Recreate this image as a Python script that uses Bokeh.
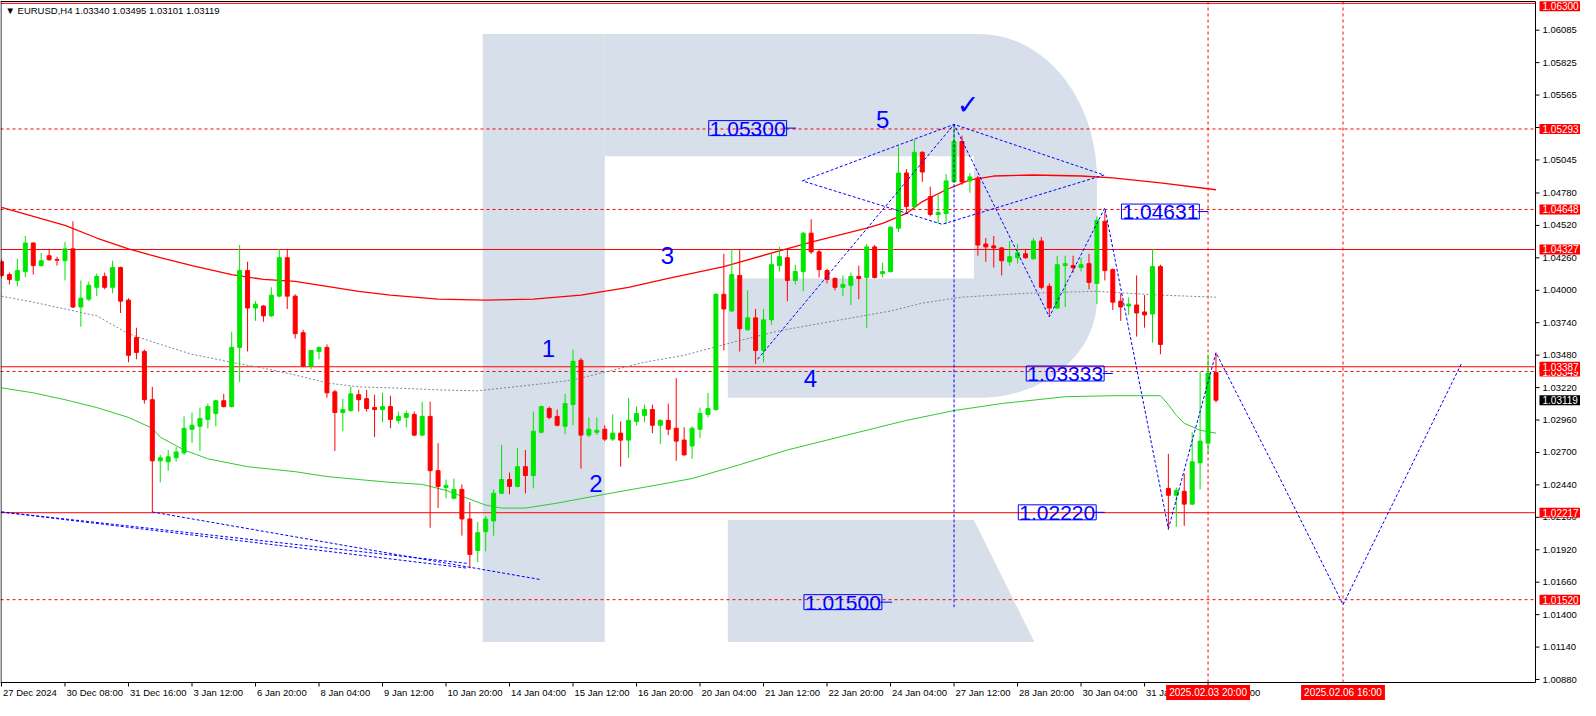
import numpy as np
from bokeh.plotting import figure
from bokeh.models import Range1d, Label, ColumnDataSource
from bokeh.embed import file_html
from bokeh.resources import INLINE
from bokeh.core.properties import value

# ---------------- data (EURUSD, H4) ----------------
open_ = [1.04229,1.04126,1.04079,1.04150,1.04379,1.04198,1.04277,1.04247,1.04237,1.04332,
         1.03866,1.03929,1.04024,1.04111,1.04024,1.04182,1.03921,1.03621,1.03510,1.03123,
         1.02633,1.02625,1.02657,1.02696,1.02886,1.02910,1.02965,1.03012,1.03115,1.03068,
         1.03542,1.04158,1.03858,1.03874,1.03795,1.03953,1.04261,1.03953,1.03660,1.03392,
         1.03510,1.03542,1.03186,1.03020,1.03036,1.03163,1.03131,1.03060,1.03044,1.03068,
         1.02957,1.02981,1.03005,1.02839,1.02989,1.02554,1.02420,1.02333,1.02404,1.02167,
         1.01914,1.02065,1.02151,1.02373,1.02483,1.02428,1.02586,1.02515,1.02862,1.03052,
         1.02989,1.02910,1.03084,1.03439,1.02839,1.02862,1.02886,1.02807,1.02855,1.02799,
         1.02949,1.02997,1.03044,1.02918,1.02957,1.02894,1.02799,1.02752,1.02886,1.03005,
         1.03044,1.03968,1.03834,1.04119,1.03684,1.03779,1.03518,1.03763,1.04198,1.04261,
         1.04079,1.04150,1.04458,1.04308,1.04158,1.04095,1.04024,1.04040,1.04111,1.04103,
         1.04348,1.04134,1.04150,1.04498,1.04940,1.04672,1.05106,1.04751,1.04608,1.04616,
         1.04869,1.05193,1.04877,1.04901,1.04371,1.04356,1.04340,1.04229,1.04261,1.04292,
         1.04253,1.04395,1.04032,1.03858,1.04198,1.04198,1.04182,1.04213,1.04055,1.04553,
         1.04166,1.03913,1.03874,1.03882,1.03826,1.03810,1.04190,1.02412,1.02357,1.02388,
         1.02286,1.02617,1.02775,1.03340]
high_ = [1.04245,1.04142,1.04253,1.04435,1.04387,1.04300,1.04332,1.04269,1.04387,1.04553,
         1.04079,1.04071,1.04134,1.04142,1.04237,1.04190,1.03937,1.03700,1.03526,1.03226,
         1.02681,1.02720,1.02744,1.02989,1.03020,1.03060,1.03092,1.03123,1.03170,1.03668,
         1.04363,1.04229,1.03913,1.03882,1.04024,1.04332,1.04332,1.03968,1.03684,1.03518,
         1.03550,1.03566,1.03202,1.03131,1.03226,1.03202,1.03202,1.03163,1.03178,1.03155,
         1.03028,1.03036,1.03028,1.03107,1.03107,1.02775,1.02483,1.02491,1.02444,1.02302,
         1.02144,1.02191,1.02404,1.02760,1.02539,1.02736,1.02720,1.03028,1.03076,1.03068,
         1.03044,1.03170,1.03526,1.03455,1.02981,1.02981,1.02918,1.03005,1.02949,1.03139,
         1.03068,1.03084,1.03084,1.02965,1.03092,1.03297,1.02902,1.02910,1.03060,1.03178,
         1.03976,1.04292,1.04332,1.04332,1.04000,1.03850,1.03850,1.04292,1.04348,1.04332,
         1.04205,1.04466,1.04569,1.04324,1.04174,1.04103,1.04119,1.04142,1.04198,1.04371,
         1.04363,1.04221,1.04514,1.05153,1.04972,1.05209,1.05114,1.04830,1.04766,1.04932,
         1.05330,1.05240,1.04940,1.04916,1.04419,1.04435,1.04348,1.04395,1.04371,1.04332,
         1.04419,1.04427,1.04055,1.04277,1.04277,1.04277,1.04261,1.04292,1.04593,1.04631,
         1.04174,1.03976,1.03945,1.04119,1.03961,1.04332,1.04205,1.02689,1.02420,1.02531,
         1.02862,1.03344,1.03487,1.03495]
low_ = [1.04103,1.04047,1.04032,1.04103,1.04126,1.04190,1.04237,1.04198,1.04079,1.03858,
        1.03708,1.03913,1.03953,1.04008,1.03976,1.03818,1.03423,1.03447,1.03092,1.02223,
        1.02460,1.02554,1.02625,1.02681,1.02775,1.02712,1.02894,1.02910,1.03060,1.03060,
        1.03265,1.03510,1.03755,1.03747,1.03787,1.03945,1.03850,1.03613,1.03384,1.03368,
        1.03447,1.03139,1.02712,1.02870,1.03028,1.03028,1.03028,1.02823,1.02941,1.02894,
        1.02934,1.02902,1.02831,1.02831,1.02096,1.02254,1.02333,1.02325,1.02033,1.01772,
        1.01820,1.01907,1.02033,1.02365,1.02365,1.02420,1.02373,1.02412,1.02854,1.02965,
        1.02910,1.02847,1.02918,1.02570,1.02823,1.02839,1.02791,1.02791,1.02586,1.02657,
        1.02918,1.02941,1.02854,1.02768,1.02839,1.02633,1.02673,1.02649,1.02815,1.02981,
        1.03036,1.03518,1.03826,1.03510,1.03676,1.03408,1.03423,1.03724,1.04150,1.03913,
        1.04047,1.03992,1.04292,1.04103,1.04055,1.04000,1.03953,1.03882,1.03929,1.03700,
        1.04095,1.04103,1.04142,1.04466,1.04616,1.04656,1.04869,1.04593,1.04537,1.04529,
        1.04861,1.04845,1.04782,1.04277,1.04229,1.04182,1.04119,1.04198,1.04213,1.04253,
        1.04245,1.04008,1.03795,1.03850,1.03866,1.04142,1.04150,1.04008,1.03889,1.04079,
        1.03842,1.03755,1.03803,1.03629,1.03700,1.03581,1.03487,1.02080,1.02104,1.02112,
        1.02278,1.02404,1.02689,1.03101]
close_ = [1.04119,1.04087,1.04158,1.04379,1.04198,1.04237,1.04245,1.04241,1.04332,1.03866,
          1.03937,1.04040,1.04111,1.04024,1.04182,1.03913,1.03479,1.03502,1.03123,1.02633,
          1.02657,1.02665,1.02704,1.02894,1.02918,1.02973,1.03068,1.03115,1.03068,1.03542,
          1.04158,1.03858,1.03889,1.03795,1.03961,1.04261,1.03953,1.03652,1.03392,1.03518,
          1.03542,1.03178,1.03020,1.03044,1.03170,1.03123,1.03052,1.03044,1.03068,1.02965,
          1.02989,1.03012,1.02839,1.02989,1.02554,1.02428,1.02436,1.02404,1.02167,1.01883,
          1.02057,1.02167,1.02373,1.02483,1.02428,1.02586,1.02515,1.02870,1.03068,1.02981,
          1.02918,1.03092,1.03431,1.02839,1.02886,1.02878,1.02807,1.02855,1.02799,1.02957,
          1.03012,1.03044,1.02918,1.02957,1.02886,1.02791,1.02681,1.02894,1.03012,1.03052,
          1.03968,1.03850,1.04126,1.03692,1.03779,1.03518,1.03763,1.04205,1.04269,1.04079,
          1.04150,1.04458,1.04308,1.04166,1.04087,1.04024,1.04047,1.04111,1.04095,1.04348,
          1.04103,1.04150,1.04506,1.04940,1.04672,1.05106,1.04948,1.04608,1.04624,1.04877,
          1.05193,1.04869,1.04909,1.04363,1.04348,1.04340,1.04237,1.04269,1.04300,1.04261,
          1.04395,1.04024,1.03858,1.04205,1.04213,1.04182,1.04205,1.04063,1.04561,1.04158,
          1.03905,1.03866,1.03889,1.03818,1.03803,1.04190,1.03566,1.02357,1.02396,1.02286,
          1.02625,1.02791,1.03336,1.03119]

# moving averages (bar index, value)
ma_red_idx = [0,4,8,12,16,20,24,29,33,37,41,45,49,55,61,67,73,79,84,91,98,102,109,111,114,116,119,122,125,130,136,140,146,153]
ma_red_val = [1.04664,1.04593,1.04521,1.04419,1.04332,1.04261,1.04198,1.04126,1.04087,1.04071,1.04032,1.03992,1.03961,1.03929,
              1.03921,1.03929,1.03961,1.04024,1.04095,1.04190,1.04316,1.04387,1.04498,1.04537,1.04616,1.04711,1.04806,1.04885,
              1.04916,1.04924,1.04916,1.04901,1.04861,1.04806]
ma_gray_idx = [0,4,8,12,16,20,24,29,33,37,41,45,49,55,60,68,72,76,81,86,92,98,105,112,116,121,129,138,146,153]
ma_gray_val = [1.03953,1.03905,1.03850,1.03795,1.03652,1.03566,1.03487,1.03423,1.03376,1.03321,1.03257,1.03226,1.03218,1.03202,
               1.03194,1.03250,1.03281,1.03344,1.03423,1.03479,1.03581,1.03676,1.03755,1.03834,1.03897,1.03945,1.03976,1.03992,
               1.03961,1.03945]
ma_green_idx = [0,4,8,12,16,19,20,23,26,31,37,41,45,49,53,56,58,61,63,66,70,76,83,87,93,99,106,114,120,126,134,140,146,147,148,149,151,153]
ma_green_val = [1.03218,1.03178,1.03123,1.03060,1.02981,1.02894,1.02823,1.02720,1.02649,1.02586,1.02546,1.02507,1.02483,1.02460,
                1.02444,1.02396,1.02349,1.02278,1.02254,1.02254,1.02294,1.02365,1.02444,1.02491,1.02602,1.02720,1.02831,1.02957,
                1.03036,1.03092,1.03147,1.03155,1.03155,1.03084,1.02997,1.02934,1.02878,1.02855]

# horizontal levels, time marks, price tags
solid_levels = [1.06300, 1.04327, 1.03387, 1.02217]
dashed_levels = [1.05293, 1.04648, 1.03349, 1.01520]
vertical_marks = [152, 169]
vertical_texts = ["2025.02.03 20:00", "2025.02.06 16:00"]
right_red_labels = [1.06300, 1.05293, 1.04648, 1.04327, 1.03349, 1.03387, 1.02217, 1.01520]
last_price = 1.03119

# wave analysis drawings
wave_x = [95.25, 120, 132, 139, 147, 153, 161, 169, 176.4, 184]
wave_y = [1.03447, 1.05330, 1.03787, 1.04660, 1.02088, 1.03500, 1.02499, 1.01480, 1.02436, 1.03423]
diamond_x = [100.9, 120, 138.9, 118.5, 100.9]
diamond_y = [1.04877, 1.05330, 1.04924, 1.04529, 1.04877]
target_x = [120, 120]
target_y = [1.05330, 1.01460]
chan_xs = [[0, 58.75], [0, 58.75], [19, 68]]
chan_ys = [[1.02223, 1.01772], [1.02223, 1.01810], [1.02223, 1.01680]]
box_text = ["1.05300", "1.04631", "1.03333", "1.02220", "1.01500"]
box_x = [94, 146, 134, 133, 106]
box_y = [1.05300, 1.04631, 1.03333, 1.02220, 1.01500]
box_lead = [(98.7, 100.1), (150.7, 152.0), (138.7, 140.0), (137.7, 139.0), (110.7, 112.2)]
wave_lbl = ["1", "2", "3", "4", "5"]
wave_lbl_x = [68.9, 74.9, 83.9, 101.9, 111.0]
wave_lbl_y = [1.03534, 1.02452, 1.04277, 1.03289, 1.05367]
check_x, check_y = [121.75], [1.05493]

x_tick_idx = list(range(0, 153, 8))
x_tick_labels = ["27 Dec 2024", "30 Dec 08:00", "31 Dec 16:00", "3 Jan 12:00", "6 Jan 20:00", "8 Jan 04:00",
                 "9 Jan 12:00", "10 Jan 20:00", "14 Jan 04:00", "15 Jan 12:00", "16 Jan 20:00", "20 Jan 04:00",
                 "21 Jan 12:00", "22 Jan 20:00", "24 Jan 04:00", "27 Jan 12:00", "28 Jan 20:00", "30 Jan 04:00",
                 "31 Jan 12:00", "3 Feb 20:00"]
y_ticks = [1.06085, 1.05825, 1.05565, 1.05305, 1.05045, 1.04780, 1.04520, 1.04260, 1.04000, 1.03740, 1.03480,
           1.03220, 1.02960, 1.02700, 1.02440, 1.02180, 1.01920, 1.01660, 1.01400, 1.01140, 1.00880]
y_tick_labels = ["%.5f" % v for v in y_ticks]

# ---------------- layout (chart area + MT4-style scales drawn inside the canvas) ----------------
W, H = 1580, 700
CHART_W, CHART_H = 1535, 682
X_LO, X_HI = -0.125, 193.25
Y_LO, Y_HI = 1.00856, 1.06323
PPB = CHART_W / (X_HI - X_LO)          # pixels per bar
PPU = CHART_H / (Y_HI - Y_LO)          # pixels per price unit
FONT = "Liberation Sans"
BLUE = "#0000ff"
BULL, BEAR = "#00e600", "#ff0000"

p = figure(width=W, height=H, output_backend="svg", toolbar_location=None,
           x_range=Range1d(X_LO, X_LO + W / PPB), y_range=Range1d(Y_HI - H / PPU, Y_HI),
           x_axis_location=None, y_axis_location=None,
           min_border=0, min_border_left=0, min_border_right=0, min_border_top=0, min_border_bottom=0)
p.xgrid.visible = False
p.ygrid.visible = False
p.outline_line_color = None
p.background_fill_color = "white"
p.border_fill_color = "white"

# ---------------- logo watermark ----------------
t1 = np.linspace(np.pi / 2, 0, 24)
t2 = np.linspace(0, -np.pi / 2, 24)
lx_top, lx_bowl, lx_hole, lx_in, lx_out, lx_stem0 = 123.25, 91.5, 122.5, 76.0, 138.0, 60.625
ly_top, ly_hole_t, ly_a1, ly_a2, ly_hole_b, ly_bowl_b, ly_leg_t, ly_bot = 1.06054, 1.05074, 1.04893, 1.03929, 1.04095, 1.03139, 1.02159, 1.01180
rx = lx_out - lx_top
bowl_x = ([lx_in, lx_top] + list(lx_top + rx * np.cos(t1)) + list(lx_top + rx * np.cos(t2)) +
          [lx_bowl, lx_bowl, lx_hole, lx_hole, lx_in])
bowl_y = ([ly_top, ly_top] + list(ly_a1 + (ly_top - ly_a1) * np.sin(t1)) +
          list(ly_a2 + (ly_a2 - ly_bowl_b) * np.sin(t2)) +
          [ly_bowl_b, ly_hole_b, ly_hole_b, ly_hole_t, ly_hole_t])
logo_xs = [[lx_stem0, lx_in, lx_in, lx_stem0], bowl_x, [lx_bowl, lx_hole, 130.125, lx_bowl]]
logo_ys = [[ly_top, ly_top, ly_bot, ly_bot], bowl_y, [ly_leg_t, ly_leg_t, ly_bot, ly_bot]]
p.patches(logo_xs, logo_ys, fill_color="#d6dfea", line_color=None)

# ---------------- horizontal / vertical levels ----------------
p.segment(x0=[X_LO] * len(solid_levels), x1=[X_HI] * len(solid_levels), y0=solid_levels, y1=solid_levels,
          line_color="#ff0000", line_width=1)
p.segment(x0=[X_LO] * len(dashed_levels), x1=[X_HI] * len(dashed_levels), y0=dashed_levels, y1=dashed_levels,
          line_color="#ff0000", line_width=1, line_dash="3 3")
p.segment(x0=vertical_marks, x1=vertical_marks, y0=[Y_LO] * 2, y1=[Y_HI] * 2,
          line_color="#ff0000", line_width=1, line_dash="3 3")

# ---------------- moving averages ----------------
p.line(ma_gray_idx, ma_gray_val, line_color="#778899", line_width=1, line_dash="2 2")
p.line(ma_green_idx, ma_green_val, line_color="#32c832", line_width=1)
p.line(ma_red_idx, ma_red_val, line_color="#ff0000", line_width=1.3)

# ---------------- candles ----------------
n = len(open_)
idx = list(range(n))
colors = [BULL if c >= o else BEAR for o, c in zip(open_, close_)]
src = ColumnDataSource(dict(x=idx, h=high_, l=low_,
                            top=[max(o, c) for o, c in zip(open_, close_)],
                            bottom=[min(o, c) for o, c in zip(open_, close_)],
                            color=colors))
p.segment(x0="x", x1="x", y0="h", y1="l", line_color="color", line_width=1, source=src)
p.vbar(x="x", width=0.5, top="top", bottom="bottom", fill_color="color", line_color="color", line_width=1, source=src)

# ---------------- wave drawings ----------------
p.line(wave_x, wave_y, line_color=BLUE, line_width=1, line_dash="3 2")
p.line(diamond_x, diamond_y, line_color=BLUE, line_width=1, line_dash="3 2")
p.line(target_x, target_y, line_color=BLUE, line_width=1, line_dash="3 2")
p.multi_line(chan_xs, chan_ys, line_color=BLUE, line_width=1, line_dash="3 2")
p.segment(x0=[a for a, b in box_lead], x1=[b for a, b in box_lead], y0=box_y, y1=box_y,
          line_color=BLUE, line_width=1)
for t, x, y in zip(box_text, box_x, box_y):
    p.add_layout(Label(x=x, y=y, text=t, text_align="center", text_baseline="middle",
                       text_font=FONT, text_font_size="21px", text_color=BLUE,
                       border_line_color=BLUE, border_line_width=1, background_fill_color=None,
                       padding=dict(top=1, right=1, bottom=0, left=1)))
p.text(wave_lbl_x, wave_lbl_y, text=wave_lbl, text_font=value(FONT), text_font_size="24px",
       text_color=BLUE, text_align="center", text_baseline="middle")
p.text(check_x, check_y, text=["\u2713"], text_font=value("DejaVu Sans"), text_font_size="27px",
       text_font_style="bold", text_color=BLUE, text_align="center", text_baseline="middle")

# ---------------- chart frame and scales ----------------
fx = 0.5 / PPB
fy = 0.5 / PPU
p.segment(x0=[X_LO + fx, X_LO + fx, X_LO, X_HI], x1=[X_LO + fx, X_LO + fx, X_HI, X_HI],
          y0=[Y_LO, Y_HI - 2 * fy, Y_HI - 2 * fy, Y_LO], y1=[Y_HI - 2 * fy, Y_HI - 2 * fy, Y_HI - 2 * fy, Y_HI - 2 * fy],
          line_color="black", line_width=1)
p.segment(x0=[X_LO], x1=[X_HI], y0=[Y_LO], y1=[Y_LO], line_color="black", line_width=1)
# price scale (right)
p.segment(x0=[X_HI] * len(y_ticks), x1=[X_HI + 4 / PPB] * len(y_ticks), y0=y_ticks, y1=y_ticks,
          line_color="black", line_width=1)
p.text([X_HI + 7 / PPB] * len(y_ticks), y_ticks, text=y_tick_labels, text_font=value(FONT),
       text_font_size="9.5px", text_color="black", text_align="left", text_baseline="middle")
# time scale (bottom)
p.segment(x0=x_tick_idx, x1=x_tick_idx, y0=[Y_LO] * len(x_tick_idx), y1=[Y_LO - 4 / PPU] * len(x_tick_idx),
          line_color="black", line_width=1)
p.text([i + 1.5 / PPB for i in x_tick_idx], [Y_LO - 4 / PPU] * len(x_tick_idx), text=x_tick_labels,
       text_font=value(FONT), text_font_size="9.5px", text_color="black", text_align="left", text_baseline="top")

# price tags on the right scale
for lv in right_red_labels:
    p.add_layout(Label(x=X_HI, y=lv, x_offset=4, y_offset=(-3 if lv > 1.0625 else 0), text="%.5f" % lv,
                       text_baseline="middle", text_align="left",
                       text_font=FONT, text_font_size="10px", text_color="white",
                       background_fill_color="#ff0000", padding=dict(top=1, right=3, bottom=1, left=3)))
p.add_layout(Label(x=X_HI, y=last_price, x_offset=4, text="%.5f" % last_price, text_baseline="middle",
                   text_align="left", text_font=FONT, text_font_size="10px", text_color="white",
                   background_fill_color="black", padding=dict(top=1, right=3, bottom=1, left=3)))
# time tags on the bottom scale
for xv, t in zip(vertical_marks, vertical_texts):
    p.add_layout(Label(x=xv, y=Y_LO, y_offset=-10, text=t, text_baseline="middle", text_align="center",
                       text_font=FONT, text_font_size="10px", text_color="white",
                       background_fill_color="#ff0000", padding=dict(top=2, right=3, bottom=2, left=3)))

# header
p.add_layout(Label(x=X_LO, y=Y_HI, x_offset=5, y_offset=-4, text="\u25bc EURUSD,H4  1.03340 1.03495 1.03101 1.03119",
                   text_baseline="top", text_align="left", text_font=FONT, text_font_size="9.5px",
                   text_color="black"))

open("out.html", "w").write(file_html(p, INLINE))
